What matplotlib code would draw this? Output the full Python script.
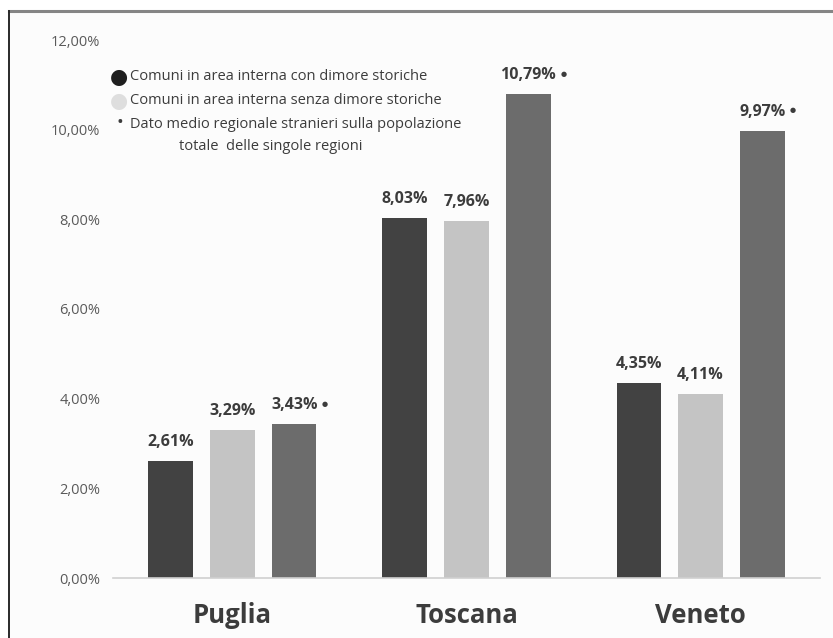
import numpy as np
import matplotlib
matplotlib.use("Agg")
import matplotlib.pyplot as plt
from matplotlib.patches import Rectangle
from matplotlib.ticker import FuncFormatter

# dati (quota stranieri sulla popolazione)
regioni = ['Puglia', 'Toscana', 'Veneto']
con_dimore = [2.61, 8.03, 4.35]
senza_dimore = [3.29, 7.96, 4.11]
media_regionale = [3.43, 10.79, 9.97]

colori = ['#424242', '#c4c4c4', '#6c6c6c']
testo = '#3c3c3c'

plt.rcParams['font.family'] = ['Open Sans', 'DejaVu Sans']

fig = plt.figure(figsize=(8.33, 6.38), dpi=100)
fig.patch.set_facecolor('white')
# cornice della figura (solo sopra e a sinistra)
fig.patches.append(Rectangle((9/833, 0), 1.0, 1 - 10.5/638, transform=fig.transFigure,
                             facecolor='#fcfcfc', edgecolor='none', zorder=-2))
fig.add_artist(plt.Line2D([9/833, 1.0], [1 - 10.5/638, 1 - 10.5/638], transform=fig.transFigure,
                          color='#858585', lw=2.2))
fig.add_artist(plt.Line2D([8.5/833, 8.5/833], [0, 1 - 10.5/638], transform=fig.transFigure,
                          color='#2a2a2a', lw=1.4))

ax = fig.add_axes([113/833, 1 - 578/638, (820 - 113)/833, (578 - 40)/638])
ax.set_facecolor('none')

x = np.arange(len(regioni))
w = 0.19
step = 0.264
serie = [con_dimore, senza_dimore, media_regionale]
etichette_media = []
for i, (vals, c) in enumerate(zip(serie, colori)):
    pos = x + (i - 1) * step
    ax.bar(pos, [v / 100 for v in vals], width=w, color=c, zorder=2)
    for p, v in zip(pos, vals):
        lab = f'{v:.2f}'.replace('.', ',') + '%'
        t = ax.annotate(lab, (p, v / 100), xytext=(0, 8), textcoords='offset points',
                        ha='center', va='bottom', fontsize=11.5, fontweight='bold', color=testo)
        if i == 2:
            etichette_media.append(t)

ax.set_xlim(-0.51, 2.51)
ax.set_ylim(0, 0.12)
ax.set_yticks(np.arange(0, 0.121, 0.02))
ax.yaxis.set_major_formatter(FuncFormatter(lambda v, _: f'{v*100:.2f}'.replace('.', ',') + '%'))
ax.tick_params(axis='y', length=0, pad=9, labelsize=10.5, labelcolor='#5a5a5a')
ax.set_xticks(x)
ax.set_xticklabels(regioni, fontsize=18.5, fontweight='bold', color=testo)
ax.tick_params(axis='x', length=0, pad=17)
for s in ['top', 'right', 'left']:
    ax.spines[s].set_visible(False)
ax.spines['bottom'].set_color('#d0d0d0')
ax.spines['bottom'].set_linewidth(1.2)

# asterisco dopo le etichette del dato medio regionale
fig.canvas.draw()
r = fig.canvas.get_renderer()
for t in etichette_media:
    bb = t.get_window_extent(r)
    fig.text((bb.x1 + 4) / 833, (bb.y0 + bb.y1) / 2 / 638 + 1/638, '●', fontsize=5,
             color=testo, ha='left', va='center')

# legenda fatta a mano
fig.text(110/833, 1 - 77/638, '●', fontsize=15, color='#1e1e1e', va='center', ha='left')
fig.text(110/833, 1 - 101/638, '●', fontsize=15, color='#dedede', va='center', ha='left')
fig.text(130/833, 1 - 77/638, 'Comuni in area interna con dimore storiche', fontsize=10.5,
         color=testo, va='center', ha='left')
fig.text(130/833, 1 - 101/638, 'Comuni in area interna senza dimore storiche', fontsize=10.5,
         color=testo, va='center', ha='left')
fig.text(117/833, 1 - 123/638, '•', fontsize=13, color=testo, va='center', ha='left')
fig.text(130/833, 1 - 125/638, 'Dato medio regionale stranieri sulla popolazione', fontsize=10.5,
         color=testo, va='center', ha='left')
fig.text(271/833, 1 - 146/638, 'totale  delle singole regioni', fontsize=10.5,
         color=testo, va='center', ha='center')

fig.savefig('out.png', dpi=100)
